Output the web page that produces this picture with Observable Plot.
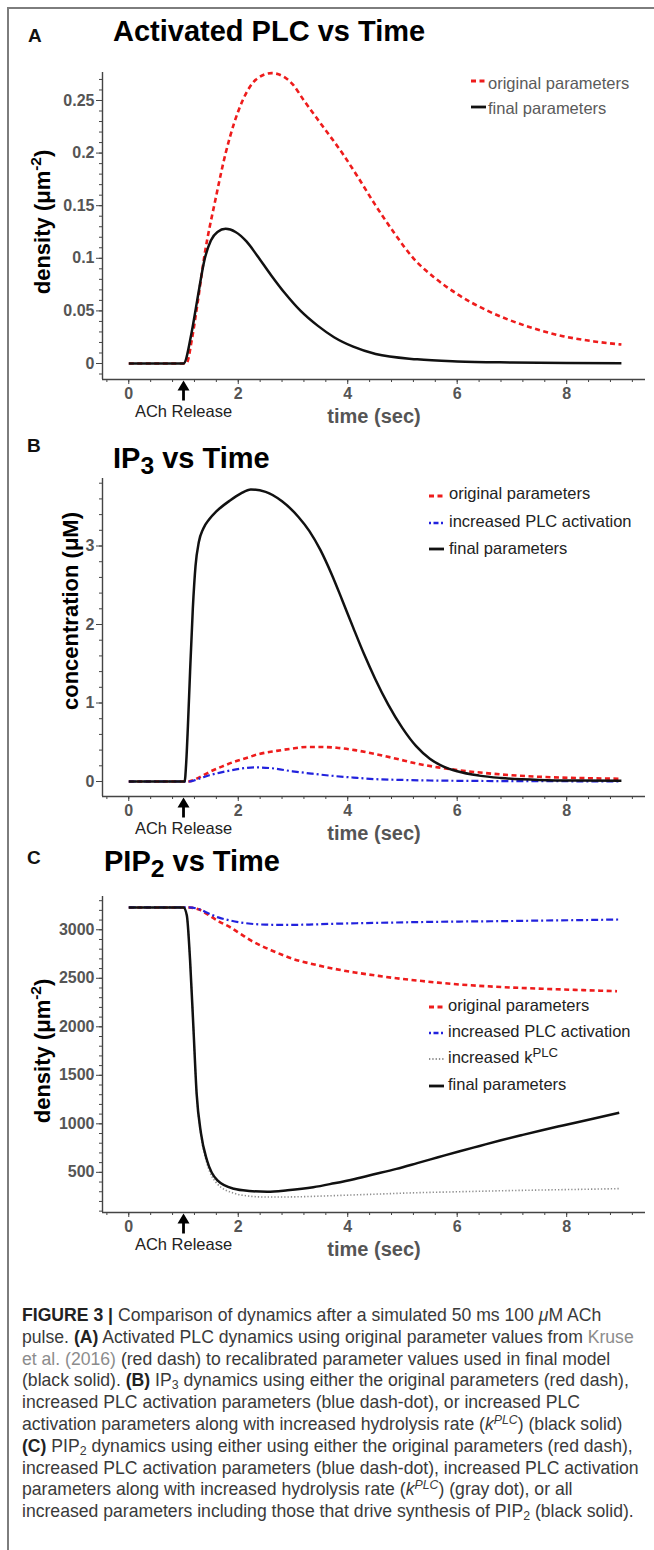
<!DOCTYPE html>
<html>
<head>
<meta charset="utf-8">
<script src="https://cdn.jsdelivr.net/npm/d3@7"></script>
<script src="https://cdn.jsdelivr.net/npm/@observablehq/plot@0.6"></script>
<style>
html,body{margin:0;padding:0;background:#fff;}
#fig{position:relative;width:654px;height:1550px;overflow:hidden;background:#fff;font-family:"Liberation Sans",Arial,Helvetica,sans-serif;}
.abs{position:absolute;white-space:nowrap;}
.panel{position:absolute;left:0;}
.plab{font-weight:bold;font-size:19px;line-height:19px;color:#111;}
.title{font-weight:bold;font-size:29px;line-height:29px;color:#000;}
.title sub{font-size:85%;line-height:0;vertical-align:baseline;position:relative;top:0.22em;}
.ylab{font-weight:bold;font-size:22px;line-height:22px;color:#000;transform:translate(-50%,-50%) rotate(-90deg);}
.ylab sup{font-size:70%;line-height:0;vertical-align:baseline;position:relative;top:-0.6em;}
.leg{font-size:16.5px;line-height:16.5px;}
.leg sup{font-size:80%;line-height:0;vertical-align:baseline;position:relative;top:-0.5em;}
#caption{position:absolute;left:22px;top:1305px;color:#3a3a3a;font-size:16px;line-height:21.8px;}
#caption div{white-space:nowrap;}
#caption b{color:#222;}
#caption sub,#caption sup{font-size:70%;line-height:0;vertical-align:baseline;position:relative;}
#caption sub{top:0.25em;} #caption sup{top:-0.5em;}
#caption .lnk{color:#8c8c8c;}
</style>
</head>
<body>
<div id="fig"></div>
<script>
// ---------- shared axis data ----------
const xDomain = [-0.48, 9.44];
const xMajorTicks = [0, 2, 4, 6, 8];
const xTickLabels = ["0", "2", "4", "6", "8"];
const xMinorTicks = d3.range(-0.4, 9.3, 0.4);
const achTime = [1];

// ---------- Panel A: Activated PLC ----------
const aOrigT  = [0, 1.05, 1.16, 1.25, 1.39, 1.58, 1.77, 2.08, 2.35, 2.61, 2.85, 3.0, 3.2, 3.55, 3.9, 4.2, 4.5, 4.85, 5.2, 5.6, 6.0, 6.56, 7.3, 7.93, 8.5, 9.0];
const aOrigV  = [0, 0, 0.025, 0.055, 0.105, 0.155, 0.2, 0.25, 0.271, 0.276, 0.272, 0.265, 0.25, 0.225, 0.2, 0.176, 0.151, 0.124, 0.1, 0.081, 0.066, 0.05, 0.035, 0.026, 0.021, 0.018];
const aFinalT = [0, 1.0, 1.15, 1.25, 1.39, 1.5, 1.62, 1.77, 1.95, 2.15, 2.34, 2.6, 2.85, 3.14, 3.45, 3.75, 4.1, 4.51, 5.27, 6.0, 7.0, 8.0, 9.0];
const aFinalV = [0, 0, 0.03, 0.06, 0.1, 0.117, 0.125, 0.128, 0.125, 0.116, 0.103, 0.084, 0.067, 0.05, 0.036, 0.025, 0.016, 0.009, 0.004, 0.002, 0.001, 0.0005, 0.0003];
const aYTicks = [0, 0.05, 0.1, 0.15, 0.2, 0.25];
const aYTickLabels = ["0", "0.05", "0.1", "0.15", "0.2", "0.25"];
const aYDomain = [-0.0152, 0.2766];

// ---------- Panel B: IP3 ----------
const bOrigT  = [0, 1.08, 1.25, 1.47, 1.7, 1.92, 2.15, 2.38, 2.7, 2.99, 3.25, 3.5, 3.8, 4.13, 4.5, 4.89, 5.25, 5.65, 6.2, 6.8, 7.5, 8.2, 9.0];
const bOrigV  = [0, 0, 0.04, 0.12, 0.19, 0.25, 0.3, 0.35, 0.39, 0.42, 0.44, 0.44, 0.43, 0.4, 0.35, 0.29, 0.23, 0.18, 0.13, 0.09, 0.06, 0.045, 0.035];
const bPlcT   = [0, 1.1, 1.3, 1.47, 1.65, 1.85, 2.05, 2.3, 2.6, 2.99, 3.35, 3.75, 4.1, 4.51, 5.0, 5.5, 6.2, 7.0, 8.0, 9.0];
const bPlcV   = [0, 0, 0.04, 0.08, 0.11, 0.14, 0.165, 0.18, 0.17, 0.13, 0.1, 0.07, 0.05, 0.03, 0.02, 0.013, 0.008, 0.005, 0.003, 0.002];
const bFinalT = [0, 1.02, 1.05, 1.08, 1.12, 1.17, 1.22, 1.28, 1.36, 1.47, 1.6, 1.85, 2.05, 2.23, 2.5, 2.8, 3.1, 3.3, 3.5, 3.7, 3.9, 4.1, 4.3, 4.5, 4.74, 5.0, 5.25, 5.5, 5.75, 6.0, 6.4, 6.8, 7.5, 8.2, 9.0];
const bFinalV = [0, 0, 0.25, 0.7, 1.4, 2.2, 2.75, 3.05, 3.22, 3.34, 3.44, 3.58, 3.67, 3.72, 3.69, 3.57, 3.37, 3.19, 2.95, 2.65, 2.31, 1.96, 1.62, 1.31, 0.98, 0.68, 0.45, 0.29, 0.19, 0.13, 0.075, 0.045, 0.02, 0.012, 0.01];
const bYTicks = [0, 1, 2, 3];
const bYTickLabels = ["0", "1", "2", "3"];
const bYDomain = [-0.191, 3.86];

// ---------- Panel C: PIP2 ----------
const cOrigT  = [0, 1.1, 1.3, 1.47, 1.65, 1.85, 2.05, 2.23, 2.42, 2.61, 2.8, 2.99, 3.37, 3.75, 4.13, 4.51, 4.89, 5.27, 5.65, 6.04, 6.8, 7.56, 8.3, 8.92];
const cOrigV  = [3230, 3230, 3205, 3148, 3085, 3027, 2955, 2890, 2835, 2787, 2742, 2701, 2645, 2598, 2560, 2529, 2500, 2477, 2455, 2436, 2410, 2392, 2378, 2367];
const cPlcT   = [0, 1.1, 1.3, 1.47, 1.65, 1.85, 2.05, 2.23, 2.5, 2.88, 3.3, 3.75, 4.5, 5.27, 6.04, 6.8, 7.56, 8.3, 8.96];
const cPlcV   = [3230, 3230, 3210, 3165, 3125, 3096, 3075, 3062, 3053, 3050, 3054, 3062, 3071, 3079, 3085, 3089, 3095, 3100, 3106];
const cKplcT  = [0, 1.0, 1.06, 1.12, 1.18, 1.24, 1.32, 1.43, 1.62, 1.92, 2.2, 2.5, 3.0, 3.75, 4.5, 5.27, 6.04, 6.8, 7.56, 8.3, 8.96];
const cKplcV  = [3230, 3230, 3150, 2684, 2000, 1309, 880, 590, 380, 285, 255, 245, 247, 260, 275, 290, 300, 310, 318, 325, 332];
const cFinalT = [0, 1.0, 1.06, 1.12, 1.18, 1.24, 1.32, 1.43, 1.62, 1.92, 2.2, 2.53, 2.9, 3.37, 3.75, 4.13, 4.5, 4.89, 5.27, 5.65, 6.03, 6.41, 6.8, 7.17, 7.55, 7.93, 8.5, 8.96];
const cFinalV = [3230, 3230, 3150, 2684, 2000, 1309, 899, 622, 416, 330, 308, 300, 315, 346, 387, 432, 482, 536, 595, 655, 715, 772, 830, 882, 934, 983, 1055, 1115];
const cYTicks = [500, 1000, 1500, 2000, 2500, 3000];
const cYTickLabels = ["500", "1000", "1500", "2000", "2500", "3000"];
const cYDomain = [86, 3343];

// ---------- styles ----------
const RED = "#ee1c1c", BLUE = "#2222dd", BLACK = "#111111", GRAY = "#8f8f8f";
const styles = {
  orig:  {color: RED,   width: 2.6, dash: "5,3.5"},
  plc:   {color: BLUE,  width: 2.2, dash: "7,3,2,3"},
  kplc:  {color: GRAY,  width: 1.6, dash: "1.3,2"},
  final: {color: BLACK, width: 2.5, dash: null}
};
const zip = (ts, vs) => ts.map((t, i) => ({t, v: vs[i]}));
const FONT = '"Liberation Sans", Arial, Helvetica, sans-serif';
const hasAxis = typeof Plot.axisX === "function";

const arrowShape = {
  draw(ctx, l) {
    const hw = 6, hh = 10, sw = 1.4;
    ctx.moveTo(-sw, 0); ctx.lineTo(-sw, -l + hh); ctx.lineTo(-hw, -l + hh);
    ctx.lineTo(0, -l); ctx.lineTo(hw, -l + hh); ctx.lineTo(sw, -l + hh);
    ctx.lineTo(sw, 0); ctx.closePath();
  }
};

function makePanel(cfg) {
  const fmtY = new Map(cfg.yTicks.map((d, i) => [d, cfg.yTickLabels[i]]));
  const fmtX = new Map(xMajorTicks.map((d, i) => [d, xTickLabels[i]]));
  const marks = [];
  if (hasAxis) {
    marks.push(
      Plot.axisY({ticks: cfg.yMinor, tickSize: 3, tickFormat: () => "", stroke: "#444", label: null}),
      Plot.axisY({ticks: cfg.yTicks, tickSize: 6, tickPadding: 2, tickFormat: d => fmtY.get(d), stroke: "#444", fill: "#555", fontSize: 16, fontWeight: "bold", label: null}),
      Plot.axisX({ticks: xMinorTicks, tickSize: 3, tickFormat: () => "", stroke: "#444", label: null}),
      Plot.axisX({ticks: xMajorTicks, tickSize: 5, tickPadding: 3, tickFormat: d => fmtX.get(d), stroke: "#444", fill: "#555", fontSize: 16, fontWeight: "bold", label: null})
    );
  }
  marks.push(
    Plot.ruleX([xDomain[0]], {stroke: "#444", strokeWidth: 1.4}),
    Plot.ruleY([cfg.yDomain[0]], {stroke: "#444", strokeWidth: 1.4})
  );
  for (const s of cfg.series) {
    const st = styles[s.key];
    marks.push(Plot.line(s.data, {x: "t", y: "v", stroke: st.color, strokeWidth: st.width, strokeDasharray: st.dash, curve: "monotone-x", strokeLinecap: "butt"}));
  }
  marks.push(
    Plot.text(achTime, {x: d => d, frameAnchor: "bottom", dy: 32, text: () => "ACh Release", fontSize: 16.5, fontWeight: "normal", fill: "#222", lineAnchor: "middle"}),
    Plot.text(["time (sec)"], {frameAnchor: "bottom", dy: 37, text: d => d, fontSize: 20, fontWeight: "bold", fill: "#555", lineAnchor: "middle"})
  );
  let arrow;
  try {
    arrow = Plot.vector(achTime, {x: d => d, frameAnchor: "bottom", dy: 21, length: 20, rotate: 0, anchor: "start", shape: arrowShape, fill: "#000", stroke: "none"});
  } catch (e) {
    arrow = Plot.vector(achTime, {x: d => d, frameAnchor: "bottom", dy: 21, length: 20, rotate: 0, anchor: "start", stroke: "#000", strokeWidth: 2.5});
  }
  marks.push(arrow);
  const opts = {
    width: 654, height: cfg.height,
    marginTop: cfg.marginTop, marginBottom: cfg.marginBottom, marginLeft: 102, marginRight: 9,
    x: {domain: xDomain, label: null},
    y: {domain: cfg.yDomain, label: null},
    style: {fontFamily: FONT, fontSize: "16px", fontWeight: "bold", color: "#555", background: "transparent", overflow: "visible"},
    marks
  };
  if (hasAxis) { opts.x.axis = null; opts.y.axis = null; }
  else {
    Object.assign(opts.x, {ticks: xMajorTicks, tickFormat: d => fmtX.get(d), tickSize: 5});
    Object.assign(opts.y, {ticks: cfg.yTicks, tickFormat: d => fmtY.get(d), tickSize: 6});
  }
  const svg = Plot.plot(opts);
  svg.classList.add("panel");
  svg.style.top = cfg.top + "px";
  return svg;
}

const fig = document.getElementById("fig");

fig.appendChild(makePanel({
  top: 0, height: 430, marginTop: 72, marginBottom: 51,
  yDomain: aYDomain, yTicks: aYTicks, yTickLabels: aYTickLabels, yMinor: d3.range(-0.01, 0.2751, 0.01),
  series: [{key: "orig", data: zip(aOrigT, aOrigV)}, {key: "final", data: zip(aFinalT, aFinalV)}]
}));
fig.appendChild(makePanel({
  top: 430, height: 420, marginTop: 48, marginBottom: 54,
  yDomain: bYDomain, yTicks: bYTicks, yTickLabels: bYTickLabels, yMinor: d3.range(0, 3.81, 0.2),
  series: [{key: "orig", data: zip(bOrigT, bOrigV)}, {key: "plc", data: zip(bPlcT, bPlcV)}, {key: "final", data: zip(bFinalT, bFinalV)}]
}));
fig.appendChild(makePanel({
  top: 850, height: 420, marginTop: 46, marginBottom: 58,
  yDomain: cYDomain, yTicks: cYTicks, yTickLabels: cYTickLabels, yMinor: d3.range(100, 3301, 100),
  series: [{key: "orig", data: zip(cOrigT, cOrigV)}, {key: "plc", data: zip(cPlcT, cPlcV)}, {key: "kplc", data: zip(cKplcT, cKplcV)}, {key: "final", data: zip(cFinalT, cFinalV)}]
}));

// ---------- HTML text ----------
function addText(cls, html, x, baseline, fs, extra) {
  const el = document.createElement("div");
  el.className = "abs " + cls;
  el.innerHTML = html;
  el.style.left = x + "px";
  el.style.top = (baseline - 0.85 * fs) + "px";
  if (extra) Object.assign(el.style, extra);
  fig.appendChild(el);
  return el;
}
function addYLabel(html, cx, cy) {
  const el = document.createElement("div");
  el.className = "abs ylab";
  el.innerHTML = html;
  el.style.left = cx + "px";
  el.style.top = cy + "px";
  fig.appendChild(el);
}
// frame lines
const fl = document.createElement("div");
Object.assign(fl.style, {position: "absolute", left: "7px", top: "7px", width: "2px", height: "1543px", background: "#7d7d7d"});
fig.appendChild(fl);
const ft = document.createElement("div");
Object.assign(ft.style, {position: "absolute", left: "7px", top: "7px", width: "647px", height: "2px", background: "#7d7d7d"});
fig.appendChild(ft);

addText("plab", "A", 28, 42, 19);
addText("plab", "B", 27, 452, 19);
addText("plab", "C", 27, 864, 19);
addText("title", "Activated PLC vs Time", 113, 42, 29);
addText("title", "IP<sub>3</sub> vs Time", 113, 469, 29);
addText("title", "PIP<sub>2</sub> vs Time", 104, 872, 29);
addYLabel("density (μm<sup>-2</sup>)", 43, 222);
addYLabel("concentration (μM)", 71, 611);
addYLabel("density (μm<sup>-2</sup>)", 43, 1051);

// legends
function legendRow(sx, tx, sy, baseline, key, html, color) {
  const st = styles[key];
  const ns = "http://www.w3.org/2000/svg";
  const s = document.createElementNS(ns, "svg");
  s.setAttribute("width", 16); s.setAttribute("height", 8);
  Object.assign(s.style, {position: "absolute", left: sx + "px", top: (sy - 4) + "px", overflow: "visible"});
  const ln = document.createElementNS(ns, "line");
  ln.setAttribute("x1", 0); ln.setAttribute("x2", 15); ln.setAttribute("y1", 4); ln.setAttribute("y2", 4);
  ln.setAttribute("stroke", st.color); ln.setAttribute("stroke-width", st.width + 0.3);
  if (st.dash) ln.setAttribute("stroke-dasharray", key === "plc" ? "2,2.5,5,2.5" : st.dash);
  s.appendChild(ln);
  fig.appendChild(s);
  addText("leg", html, tx, baseline, 16.5, {color});
}
legendRow(471, 488, 81, 89.5, "orig", "original parameters", "#5a5a5a");
legendRow(471, 488, 107, 114.5, "final", "final parameters", "#5a5a5a");

legendRow(429, 449, 496, 499.5, "orig", "original parameters", "#222");
legendRow(429, 449, 523, 527.5, "plc", "increased PLC activation", "#222");
legendRow(429, 449, 549, 554.5, "final", "final parameters", "#222");

legendRow(429, 448, 1007, 1011.5, "orig", "original parameters", "#222");
legendRow(429, 448, 1033, 1037.5, "plc", "increased PLC activation", "#222");
legendRow(429, 448, 1059, 1063.5, "kplc", "increased k<sup>PLC</sup>", "#222");
legendRow(429, 448, 1086, 1090.5, "final", "final parameters", "#222");

// caption
const captionLines = [
  '<b>FIGURE 3 |</b> Comparison of dynamics after a simulated 50 ms 100 <i>μ</i>M ACh',
  'pulse. <b>(A)</b> Activated PLC dynamics using original parameter values from <span class="lnk">Kruse</span>',
  '<span class="lnk">et al. (2016)</span> (red dash) to recalibrated parameter values used in final model',
  '(black solid). <b>(B)</b> IP<sub>3</sub> dynamics using either the original parameters (red dash),',
  'increased PLC activation parameters (blue dash-dot), or increased PLC',
  'activation parameters along with increased hydrolysis rate (<i>k<sup>PLC</sup></i>) (black solid)',
  '<b>(C)</b> PIP<sub>2</sub> dynamics using either using either the original parameters (red dash),',
  'increased PLC activation parameters (blue dash-dot), increased PLC activation',
  'parameters along with increased hydrolysis rate (<i>k<sup>PLC</sup></i>) (gray dot), or all',
  'increased parameters including those that drive synthesis of PIP<sub>2</sub> (black solid).'
];
const cap = document.createElement("div");
cap.id = "caption";
captionLines.forEach(h => { const d = document.createElement("div"); d.innerHTML = h; d.style.display = "inline-block"; cap.appendChild(d); cap.appendChild(document.createElement("br")); });
fig.appendChild(cap);
const divs = cap.querySelectorAll("div");
const w8 = divs[7].getBoundingClientRect().width;
const fs = 16 * 617 / w8;
cap.style.fontSize = fs.toFixed(2) + "px";
</script>
</body>
</html>
